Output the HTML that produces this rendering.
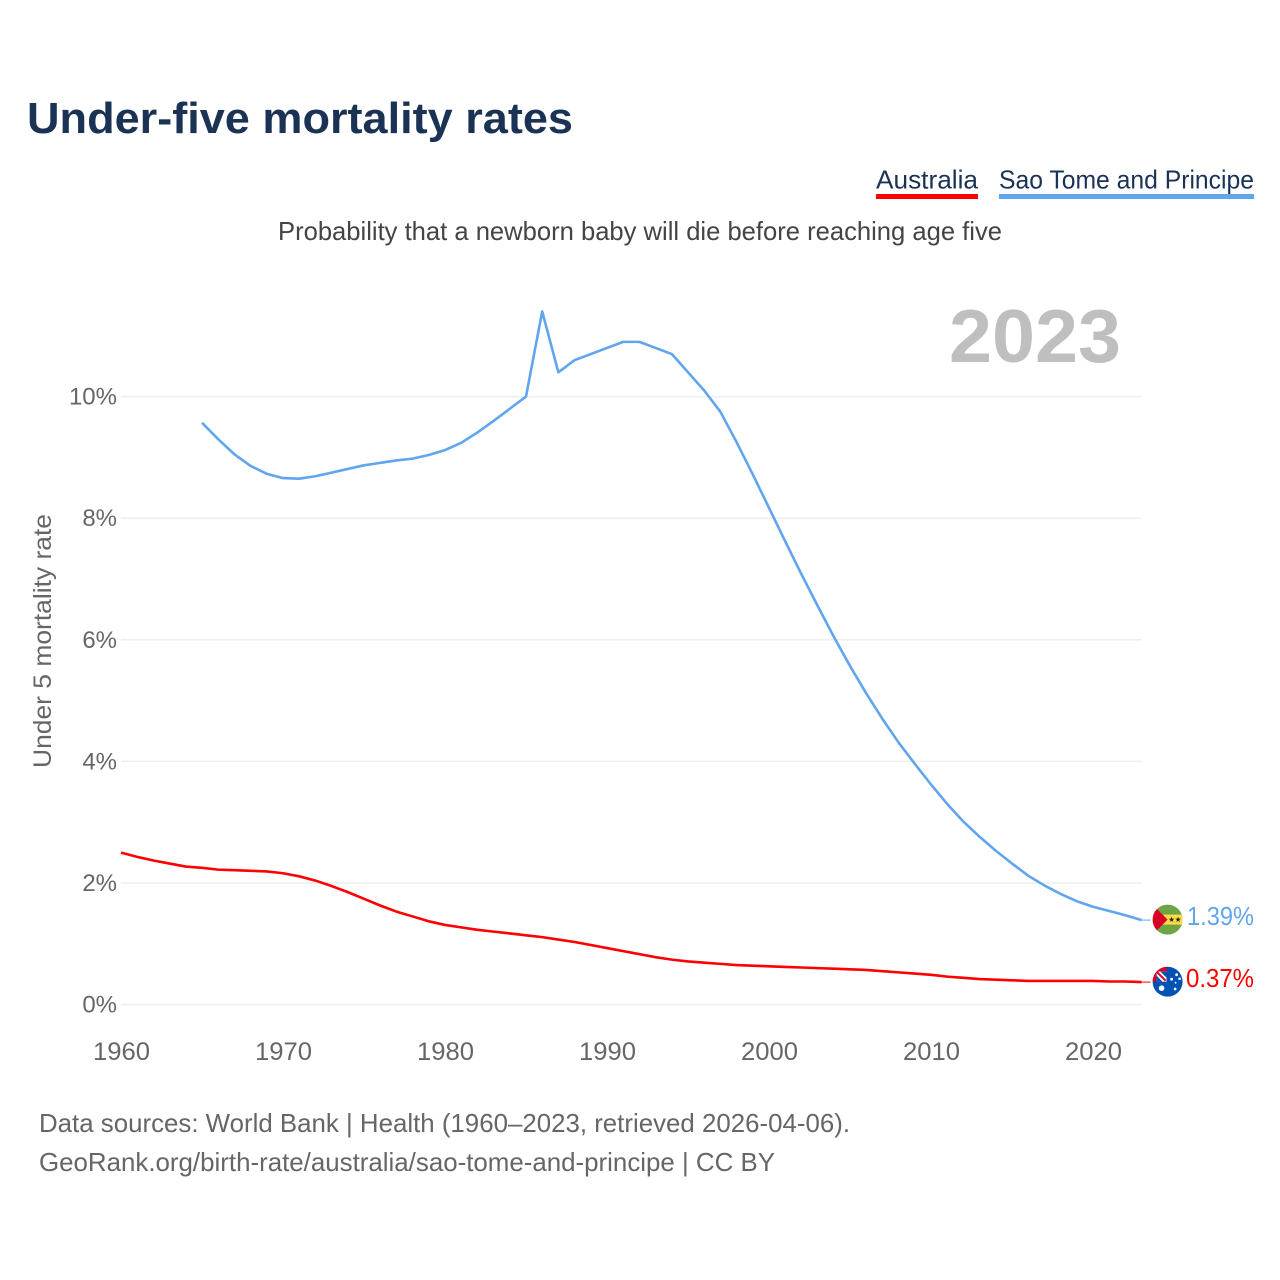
<!DOCTYPE html>
<html lang="en">
<head>
<meta charset="utf-8">
<title>Under-five mortality rates</title>
<style>
html,body{margin:0;padding:0;background:#fff;width:1280px;height:1280px;overflow:hidden}
svg{display:block}
text{font-family:"Liberation Sans",sans-serif}
</style>
</head>
<body>
<svg id="chart" xmlns="http://www.w3.org/2000/svg" width="1280" height="1280" viewBox="0 0 1280 1280">
  <rect width="1280" height="1280" fill="#ffffff"/>
  <text x="27" y="133" font-size="44" font-weight="700" fill="#1a3354" textLength="546" lengthAdjust="spacingAndGlyphs">Under-five mortality rates</text>

  <g>
    <text x="876" y="188.5" font-size="26" fill="#1a3354" textLength="102" lengthAdjust="spacingAndGlyphs">Australia</text>
    <rect x="876" y="194" width="102" height="5" fill="#ff0000"/>
  </g>
  <g>
    <text x="999" y="188.5" font-size="26" fill="#1a3354" textLength="255" lengthAdjust="spacingAndGlyphs">Sao Tome and Principe</text>
    <rect x="999" y="194" width="255" height="5" fill="#60a5ee"/>
  </g>

  <text x="278" y="240" font-size="26" fill="#444444" textLength="724" lengthAdjust="spacingAndGlyphs">Probability that a newborn baby will die before reaching age five</text>
  <text x="949" y="362" font-size="75" font-weight="700" fill="#bfbfbf" textLength="172" lengthAdjust="spacingAndGlyphs">2023</text>

  <g id="grid"></g>
  <g id="yticks"></g>
  <g id="xticks"></g>
  <text transform="translate(51,768) rotate(-90)" font-size="25" fill="#666666" textLength="254" lengthAdjust="spacingAndGlyphs">Under 5 mortality rate</text>

  <g id="series"></g>

  <defs>
    <clipPath id="stpClip"><circle id="stpClipCircle" cx="0" cy="0" r="15"/></clipPath>
    <clipPath id="ausClip"><circle id="ausClipCircle" cx="0" cy="0" r="15"/></clipPath>
  </defs>

  <g id="flagStp">
    <g clip-path="url(#stpClip)">
      <rect x="-15" y="-15" width="30" height="30" fill="#6da544"/>
      <rect x="-15" y="-5" width="30" height="10" fill="#ffda44"/>
      <polygon points="-15,-15 0,0 -15,15" fill="#d80027"/>
      <polygon transform="translate(4,0)" points="0,-3 .7,-1 2.9,-.9 1.1,.4 1.8,2.4 0,1.2 -1.8,2.4 -1.1,.4 -2.9,-.9 -.7,-1" fill="#222222"/>
      <polygon transform="translate(10.5,0)" points="0,-3 .7,-1 2.9,-.9 1.1,.4 1.8,2.4 0,1.2 -1.8,2.4 -1.1,.4 -2.9,-.9 -.7,-1" fill="#222222"/>
    </g>
  </g>
  <g id="flagAus">
    <g clip-path="url(#ausClip)">
      <rect x="-15" y="-15" width="30" height="30" fill="#0052b4"/>
      <rect x="-15" y="-15" width="15" height="15" fill="#d80027"/>
      <rect x="-11" y="-10" width="10" height="10" fill="#ffffff"/>
      <polygon points="-11,-6 -11,0 -5,0" fill="#0052b4"/>
      <polygon points="-7,-10 -1,-10 -1,-4" fill="#0052b4"/>
      <path d="M-11,-10 L-2,-1" stroke="#d80027" stroke-width="2" fill="none"/>
      <rect x="-1" y="-15" width="2" height="15" fill="#0052b4"/>
      <circle cx="-6" cy="6.5" r="2.8" fill="#fff"/>
      <circle cx="4" cy="-2.5" r="1.4" fill="#fff"/>
      <circle cx="9" cy="-7" r="1.4" fill="#fff"/>
      <circle cx="12" cy="-3" r="1.3" fill="#fff"/>
      <circle cx="7.5" cy="7.3" r="1.4" fill="#fff"/>
      <circle cx="8" cy="1" r="0.9" fill="#fff"/>
    </g>
  </g>

  <text id="labelStp" x="1187" y="925" font-size="26" fill="#60a5ee" textLength="67" lengthAdjust="spacingAndGlyphs">1.39%</text>
  <text id="labelAus" x="1186" y="987" font-size="26" fill="#ff0000" textLength="68" lengthAdjust="spacingAndGlyphs">0.37%</text>

  <text x="39" y="1132" font-size="26" fill="#666666" textLength="811" lengthAdjust="spacingAndGlyphs">Data sources: World Bank | Health (1960–2023, retrieved 2026-04-06).</text>
  <text x="39" y="1171" font-size="26" fill="#666666" textLength="736" lengthAdjust="spacingAndGlyphs">GeoRank.org/birth-rate/australia/sao-tome-and-principe | CC BY</text>
</svg>

<script>
var yTicks = [0, 2, 4, 6, 8, 10];
var xTicks = [1960, 1970, 1980, 1990, 2000, 2010, 2020];
var australiaStart = 1960;
var australiaValues = [
  2.50, 2.43, 2.37, 2.32, 2.27, 2.25, 2.22, 2.21, 2.20, 2.19,
  2.16, 2.11, 2.04, 1.95, 1.85, 1.74, 1.63, 1.53, 1.45, 1.37,
  1.31, 1.27, 1.23, 1.20, 1.17, 1.14, 1.11, 1.07, 1.03, 0.98,
  0.93, 0.88, 0.83, 0.78, 0.74, 0.71, 0.69, 0.67, 0.65, 0.64,
  0.63, 0.62, 0.61, 0.60, 0.59, 0.58, 0.57, 0.55, 0.53, 0.51,
  0.49, 0.46, 0.44, 0.42, 0.41, 0.40, 0.39, 0.39, 0.39, 0.39,
  0.39, 0.38, 0.38, 0.37
];
var saoTomeStart = 1965;
var saoTomeValues = [
  9.57, 9.30, 9.05, 8.86, 8.73,
  8.66, 8.65, 8.69, 8.75, 8.81, 8.87, 8.91, 8.95, 8.98, 9.04,
  9.12, 9.24, 9.41, 9.60, 9.80, 10.00, 11.40, 10.40, 10.60, 10.70,
  10.80, 10.90, 10.90, 10.80, 10.70, 10.40, 10.10, 9.75, 9.25, 8.72,
  8.17, 7.62, 7.08, 6.56, 6.05, 5.57, 5.12, 4.70, 4.31, 3.96,
  3.62, 3.30, 3.01, 2.76, 2.53, 2.32, 2.12, 1.96, 1.82, 1.70,
  1.61, 1.54, 1.47, 1.39
];

var NS = 'http://www.w3.org/2000/svg';
function xScale(year) { return 121 + (year - 1960) * 16.2; }
function yScale(v) { return 1004.6 - v * 60.8; }
function svgEl(tag) { return document.createElementNS(NS, tag); }

var grid = document.getElementById('grid');
var yTickGroup = document.getElementById('yticks');
var xTickGroup = document.getElementById('xticks');
var seriesGroup = document.getElementById('series');
var lastYear = australiaStart + australiaValues.length - 1;

yTicks.forEach(function (t) {
  var line = svgEl('line');
  
  
  line.setAttribute('x1', xScale(1960));
  line.setAttribute('x2', xScale(lastYear));
  line.setAttribute('y1', yScale(t));
  line.setAttribute('y2', yScale(t));
  line.setAttribute('stroke', '#eeeeee');
  line.setAttribute('stroke-width', '1.5');
  grid.appendChild(line);

  var label = svgEl('text');
  
  
  label.setAttribute('x', 117);
  label.setAttribute('y', yScale(t) + 8);
  label.setAttribute('text-anchor', 'end');
  label.setAttribute('font-size', '24');
  label.setAttribute('fill', '#666666');
  label.textContent = t + '%';
  yTickGroup.appendChild(label);
});

xTicks.forEach(function (t) {
  var label = svgEl('text');
  
  
  label.setAttribute('x', xScale(t) + 0.5);
  label.setAttribute('y', 1060);
  label.setAttribute('text-anchor', 'middle');
  label.setAttribute('font-size', '25');
  label.setAttribute('fill', '#666666');
  label.setAttribute('textLength', '57');
  label.setAttribute('lengthAdjust', 'spacingAndGlyphs');
  label.textContent = t;
  xTickGroup.appendChild(label);
});

function linePoints(start, values) {
  return values.map(function (v, i) {
    return xScale(start + i).toFixed(2) + ',' + yScale(v).toFixed(2);
  }).join(' ');
}

var leaderStp = svgEl('line');


leaderStp.setAttribute('x1', xScale(lastYear));
leaderStp.setAttribute('x2', xScale(lastYear) + 9);
leaderStp.setAttribute('y1', yScale(saoTomeValues[saoTomeValues.length - 1]));
leaderStp.setAttribute('y2', yScale(saoTomeValues[saoTomeValues.length - 1]));
leaderStp.setAttribute('stroke', '#60a5ee');
leaderStp.setAttribute('stroke-width', '1');
seriesGroup.appendChild(leaderStp);

var leaderAus = svgEl('line');


leaderAus.setAttribute('x1', xScale(lastYear));
leaderAus.setAttribute('x2', xScale(lastYear) + 9);
leaderAus.setAttribute('y1', yScale(australiaValues[australiaValues.length - 1]));
leaderAus.setAttribute('y2', yScale(australiaValues[australiaValues.length - 1]));
leaderAus.setAttribute('stroke', '#ff0000');
leaderAus.setAttribute('stroke-width', '1');
seriesGroup.appendChild(leaderAus);

var lineAus = svgEl('polyline');


lineAus.setAttribute('points', linePoints(australiaStart, australiaValues));
lineAus.setAttribute('fill', 'none');
lineAus.setAttribute('stroke', '#ff0000');
lineAus.setAttribute('stroke-width', '2.6');
lineAus.setAttribute('stroke-linejoin', 'round');
seriesGroup.appendChild(lineAus);

var lineStp = svgEl('polyline');


lineStp.setAttribute('points', linePoints(saoTomeStart, saoTomeValues));
lineStp.setAttribute('fill', 'none');
lineStp.setAttribute('stroke', '#60a5ee');
lineStp.setAttribute('stroke-width', '2.6');
lineStp.setAttribute('stroke-linejoin', 'round');
seriesGroup.appendChild(lineStp);

var stpY = yScale(saoTomeValues[saoTomeValues.length - 1]);
var ausY = yScale(australiaValues[australiaValues.length - 1]);
document.getElementById('flagStp').setAttribute('transform', 'translate(' + (xScale(lastYear) + 26) + ',' + (stpY - 0.5) + ')');
document.getElementById('flagAus').setAttribute('transform', 'translate(' + (xScale(lastYear) + 26) + ',' + (ausY - 0.4) + ')');
document.getElementById('labelStp').setAttribute('y', stpY + 5);
document.getElementById('labelAus').setAttribute('y', ausY + 5);
</script>
</body>
</html>
